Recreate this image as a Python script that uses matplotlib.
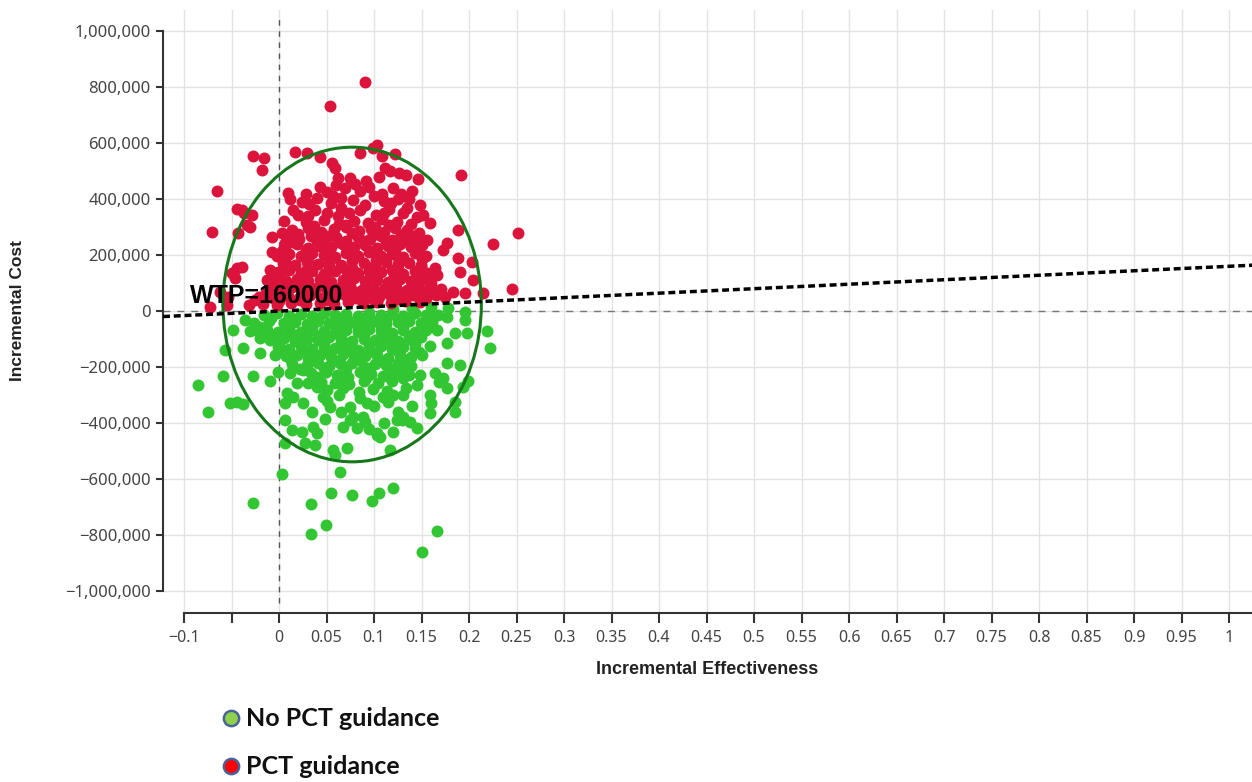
import numpy as np
import matplotlib
matplotlib.use("Agg")
import matplotlib.pyplot as plt
from matplotlib.patches import Ellipse
from matplotlib.lines import Line2D

plt.rcParams['font.family'] = ['Noto Sans', 'DejaVu Sans']

# ----------------------------------------
# data: (incremental effectiveness, incremental cost in thousands)
# ----------------------------------------
pct_sparse = [
    (0.0905, 818), (0.054, 732), (-0.065, 429), (-0.071, 282), (-0.027, 554), (-0.016, 546),
    (-0.018, 504), (-0.044, 364), (-0.037, 350), (-0.034, 307), (0.192, 486), (0.252, 279),
    (0.225, 239), (0.245, 79), (0.103, 593), (0.017, 568), (0.029, 564), (0.043, 550),
    (0.056, 529), (0.059, 511), (0.085, 564), (0.099, 582), (0.108, 554), (0.122, 561),
    (0.112, 511), (0.117, 500), (0.126, 493), (0.134, 486), (0.146, 471), (0.062, 475),
    (0.075, 475), (0.069, 439), (0.012, 400), (0.005, 321), (0.043, 443), (0.051, 425),
    (0.057, 411), (0.065, 404), (0.085, 430), (0.095, 445), (0.108, 420), (0.12, 440),
    (0.128, 420), (0.14, 430), (0.137, 400), (0.148, 379), (0.152, 343), (0.159, 314),
    (0.156, 254), (0.188, 289), (0.177, 243), (0.173, 218), (0.188, 189), (0.19, 139),
    (0.203, 175), (0.204, 111), (0.164, 154), (0.166, 129), (0.162, 68), (0.183, 68),
    (0.196, 64), (0.215, 64), (-0.062, 68), (-0.054, 50), (-0.073, 14), (-0.055, 21),
    (-0.044, 154), (-0.039, 157), (-0.049, 136), (-0.046, 118), (-0.009, 146), (-0.013, 111),
    (0.001, 118), (-0.039, 361), (-0.028, 343), (-0.031, 300), (-0.043, 279), (-0.007, 264),
    (0.003, 279), (0.006, 243), (-0.007, 211), (-0.002, 200), (0.009, 421), (0.024, 389),
    (0.015, 361),
    (0.05, 350), (0.065, 370), (0.085, 360), (0.1, 410), (0.118, 385), (0.125, 400),
    (0.04, 405), (0.028, 420), (0.08, 455), (0.092, 465), (0.105, 480), (0.135, 370),
    (0.06, 450), (0.03, 340), (0.11, 350),
]
pct_core = [
    (0.028, 318), (0.047, 326), (0.063, 312), (0.079, 322), (0.094, 315), (0.108, 328), (0.124, 318), (0.139, 310),
    (0.014, 288), (0.03, 296), (0.044, 284), (0.058, 292), (0.071, 300), (0.084, 286), (0.097, 294), (0.11, 282),
    (0.122, 297), (0.135, 288), (0.147, 280),
    (0.008, 262), (0.021, 256), (0.034, 268), (0.047, 258), (0.06, 264), (0.071, 252), (0.083, 266), (0.096, 258),
    (0.107, 270), (0.119, 255), (0.131, 263), (0.144, 252),
    (0.006, 232), (0.019, 238), (0.031, 226), (0.043, 234), (0.055, 228), (0.067, 240), (0.079, 230), (0.091, 236),
    (0.103, 224), (0.115, 233), (0.127, 240), (0.139, 228), (0.151, 236),
    (-0.002, 198), (0.011, 204), (0.023, 196), (0.035, 208), (0.047, 200), (0.059, 194), (0.071, 206), (0.083, 198),
    (0.095, 210), (0.107, 196), (0.119, 204), (0.131, 194), (0.143, 206), (0.155, 198),
    (0.004, 172), (0.017, 166), (0.029, 176), (0.041, 168), (0.053, 174), (0.065, 164), (0.077, 178), (0.089, 170),
    (0.101, 166), (0.113, 176), (0.125, 168), (0.137, 172), (0.149, 164),
    (-0.001, 138), (0.011, 146), (0.023, 136), (0.035, 144), (0.047, 134), (0.059, 142), (0.071, 148), (0.083, 136),
    (0.095, 144), (0.107, 138), (0.119, 146), (0.131, 134), (0.143, 142), (0.156, 136),
    (-0.006, 112), (0.007, 106), (0.019, 116), (0.031, 108), (0.043, 114), (0.055, 104), (0.067, 112), (0.079, 118),
    (0.091, 106), (0.103, 112), (0.115, 104), (0.127, 116), (0.139, 108), (0.151, 114),
    (-0.011, 82), (0.001, 76), (0.014, 86), (0.026, 78), (0.039, 84), (0.051, 74), (0.063, 82), (0.075, 88),
    (0.087, 76), (0.099, 84), (0.111, 78), (0.123, 86), (0.135, 74), (0.147, 82), (0.159, 88), (0.171, 78),
    (-0.021, 52), (-0.006, 46), (0.009, 54), (0.021, 48), (0.033, 56), (0.045, 46), (0.057, 52), (0.069, 58),
    (0.081, 48), (0.093, 54), (0.105, 50), (0.117, 58), (0.129, 50), (0.141, 56), (0.153, 52), (0.165, 58),
    (-0.032, 22), (-0.017, 26), (-0.002, 20), (0.013, 28), (0.028, 24), (0.043, 30), (0.058, 26), (0.073, 32),
    (0.088, 28), (0.103, 34), (0.118, 30), (0.133, 36), (0.148, 34),
    (0.02, 345), (0.038, 362), (0.074, 352), (0.09, 378), (0.102, 342), (0.116, 366), (0.13, 350),
    (0.032, 382), (0.055, 386), (0.078, 398), (0.145, 335), (0.062, 340), (0.11, 395),
]
pct_fill = [
    (0.037, 304), (0.07, 308), (0.101, 302), (0.116, 306),
    (0.02, 274), (0.052, 270), (0.077, 278), (0.103, 276), (0.128, 272), (0.141, 268),
    (0.014, 246), (0.04, 248), (0.065, 244), (0.089, 250), (0.113, 242), (0.137, 246),
    (0.003, 214), (0.028, 218), (0.051, 212), (0.075, 216), (0.099, 214), (0.122, 218), (0.146, 212),
    (0.006, 184), (0.03, 188), (0.054, 182), (0.078, 190), (0.102, 184), (0.126, 180), (0.15, 186),
    (0.005, 156), (0.029, 152), (0.053, 158), (0.077, 154), (0.101, 158), (0.125, 152), (0.149, 158),
    (0.001, 124), (0.025, 128), (0.049, 122), (0.073, 126), (0.097, 124), (0.121, 128), (0.145, 122),
    (-0.004, 94), (0.02, 98), (0.044, 92), (0.068, 98), (0.092, 94), (0.116, 96), (0.14, 92), (0.16, 100),
    (-0.014, 64), (0.008, 68), (0.032, 66), (0.056, 64), (0.08, 68), (0.104, 66), (0.128, 64), (0.152, 68),
    (-0.025, 38), (0.0, 36), (0.022, 40), (0.05, 38), (0.075, 42), (0.1, 40), (0.125, 44), (0.155, 48), (0.175, 50),
]

no_pct_sparse = [
    (-0.027, -686), (0.034, -796), (0.049, -764), (0.034, -690), (0.055, -650), (0.077, -657),
    (0.098, -680), (0.105, -650), (0.12, -633), (0.166, -785), (0.15, -862), (0.003, -582),
    (0.064, -575),
    (-0.085, -264), (-0.075, -361), (-0.059, -232), (-0.027, -232), (-0.009, -250), (-0.052, -329),
    (-0.044, -325), (-0.038, -332), (-0.048, -68), (-0.038, -132), (-0.057, -139), (-0.036, -32),
    (-0.02, -96), (-0.02, -150), (-0.004, -157), (-0.001, -218), (0.006, -329), (0.006, -389),
    (0.014, -425), (0.024, -432), (-0.023, -68), (-0.009, -86),
    (0.196, -4), (0.196, -32), (0.219, -71), (0.222, -132), (0.198, -79), (0.19, -193),
    (0.199, -250), (0.194, -271), (0.177, -186), (0.164, -221), (0.173, -239), (0.177, -275),
    (0.185, -325), (0.185, -361), (0.159, -300), (0.159, -364), (0.145, -418), (0.125, -361),
    (0.129, -389), (0.12, -432), (0.103, -443), (0.131, -300), (0.145, -264), (0.148, -229),
    (0.177, -114), (0.185, -79), (0.166, -68), (0.167, -14), (0.177, -21),
    (0.12, 6), (0.14, 10), (0.16, 14), (0.178, 12),
    (0.006, -471), (0.036, -414), (0.04, -436), (0.027, -471), (0.038, -479), (0.057, -496),
    (0.059, -514), (0.072, -489), (0.067, -414), (0.075, -389), (0.082, -418), (0.078, -379),
    (0.088, -379), (0.103, -436), (0.106, -450), (0.117, -496), (0.124, -389), (0.131, -379),
    (0.054, -343), (0.046, -307), (0.075, -343), (0.093, -329), (0.109, -307), (0.015, -307),
    (0.025, -329), (0.008, -293), (0.019, -257), (0.03, -257), (0.04, -270), (0.025, -211),
    (0.012, -221),
    (0.05, -320), (0.063, -300), (0.085, -310), (0.1, -340), (0.115, -325), (0.12, -300),
    (0.065, -360), (0.09, -395), (0.095, -420), (0.048, -385), (0.035, -360), (0.14, -340),
    (0.11, -400), (0.138, -395), (0.16, -330), (0.168, -255),
]
no_pct_core = [
    (-0.016, -14), (-0.002, -8), (0.011, -16), (0.023, -10), (0.035, -18), (0.047, -8), (0.059, -14), (0.071, -10),
    (0.083, -18), (0.095, -8), (0.107, -14), (0.119, -10), (0.131, -16), (0.143, -8), (0.155, -14),
    (-0.026, -42), (-0.011, -36), (0.005, -44), (0.017, -38), (0.029, -46), (0.041, -36), (0.053, -42), (0.065, -48),
    (0.077, -38), (0.089, -44), (0.101, -36), (0.113, -46), (0.125, -40), (0.137, -34), (0.149, -44), (0.161, -38),
    (-0.031, -72), (-0.013, -66), (-0.001, -74), (0.011, -68), (0.023, -76), (0.035, -66), (0.047, -72), (0.059, -78),
    (0.071, -68), (0.083, -74), (0.095, -64), (0.107, -72), (0.119, -78), (0.131, -68), (0.143, -74), (0.155, -66),
    (-0.009, -102), (0.005, -96), (0.017, -106), (0.029, -98), (0.041, -104), (0.053, -94), (0.065, -102),
    (0.077, -108), (0.089, -98), (0.101, -104), (0.113, -96), (0.125, -106), (0.137, -100), (0.149, -94),
    (-0.001, -128), (0.011, -134), (0.023, -126), (0.035, -136), (0.047, -128), (0.059, -132), (0.071, -124),
    (0.083, -138), (0.095, -130), (0.107, -126), (0.119, -136), (0.131, -128), (0.143, -134), (0.159, -126),
    (0.007, -162), (0.019, -156), (0.031, -166), (0.043, -158), (0.055, -164), (0.067, -154), (0.079, -168),
    (0.091, -160), (0.103, -156), (0.115, -166), (0.127, -158), (0.139, -164), (0.151, -156),
    (0.014, -188), (0.029, -194), (0.041, -186), (0.053, -196), (0.065, -190), (0.077, -184), (0.089, -198),
    (0.101, -188), (0.113, -194), (0.125, -186), (0.139, -196),
    (0.034, -222), (0.049, -216), (0.061, -228), (0.073, -234), (0.085, -218), (0.097, -226), (0.109, -232),
    (0.124, -220), (0.137, -228),
    (0.044, -252), (0.059, -258), (0.074, -262), (0.089, -248), (0.104, -256), (0.119, -250),
    (0.051, -282), (0.067, -276), (0.084, -288), (0.099, -278), (0.114, -284), (0.134, -274),
]
no_pct_fill = [
    (-0.008, -26), (0.017, -28), (0.041, -24), (0.065, -28), (0.089, -26), (0.113, -28), (0.137, -24), (0.16, -22),
    (-0.02, -56), (0.011, -54), (0.035, -58), (0.059, -54), (0.083, -58), (0.107, -54), (0.131, -58), (0.155, -52),
    (-0.005, -86), (0.017, -84), (0.041, -88), (0.065, -84), (0.089, -88), (0.113, -84), (0.137, -88),
    (0.0, -116), (0.023, -114), (0.047, -118), (0.071, -114), (0.095, -118), (0.119, -114), (0.143, -118),
    (0.005, -146), (0.029, -144), (0.053, -148), (0.077, -144), (0.101, -148), (0.125, -144), (0.147, -146),
    (0.013, -176), (0.037, -174), (0.061, -178), (0.085, -174), (0.109, -178), (0.133, -174),
    (0.022, -206), (0.047, -204), (0.071, -208), (0.095, -204), (0.119, -208), (0.131, -210),
    (0.04, -236), (0.067, -240), (0.092, -238), (0.116, -236), (0.131, -240),
]

WTP = 160000
ellipse_center = (0.077, 23500)
ellipse_size = (0.272, 1124000)
series_labels = ["No PCT guidance", "PCT guidance"]

RED = "#dc143c"
GREEN = "#33c633"

# ----------------------------------------
# figure
# ----------------------------------------
fig = plt.figure(figsize=(12.52, 7.82), dpi=100)
ax = fig.add_axes([0.1302, 0.2161, 0.8698, 0.7709])

xlim = (-0.1221, 1.0242)
ylim = (-1078600, 1075000)
ax.set_xlim(xlim)
ax.set_ylim(ylim)

xticks = np.round(np.arange(-0.1, 1.0001, 0.05), 2)
yticks = np.arange(-1000000, 1000001, 200000)
ax.set_xticks(xticks)
ax.set_yticks(yticks)
xlabels = []
for v in xticks:
    if abs(v + 0.05) < 1e-9:
        xlabels.append("")
    else:
        xlabels.append(f"{v:g}".replace("-", "\u2212"))
ax.set_xticklabels(xlabels)
ax.set_yticklabels([f"{v:,.0f}".replace("-", "\u2212") for v in yticks])

ax.grid(True, color="#e3e3e3", lw=1, zorder=0)
ax.set_axisbelow(True)
for s in ["top", "right"]:
    ax.spines[s].set_visible(False)
ax.spines["left"].set_bounds(-1000000, 1000000)
ax.spines["bottom"].set_bounds(-0.1, xlim[1])
for s in ["left", "bottom"]:
    ax.spines[s].set_color("#333333")
    ax.spines[s].set_linewidth(1.5)
ax.tick_params(axis="y", length=5, width=1.5, color="#333333", labelsize=12, labelcolor="#444444", pad=4)
ax.tick_params(axis="x", length=7, width=1.5, color="#333333", labelsize=11.5, labelcolor="#444444", pad=5)

# reference lines
ax.plot([0, 0], [-1043000, 1046000], color="#555555", lw=1, dashes=(4, 4), zorder=1)
ax.plot([xlim[0], xlim[1]], [0, 0], color="#777777", lw=1, dashes=(5, 5), zorder=1)

# points
red = np.array(pct_sparse + pct_core + pct_fill, dtype=float)
green = np.array(no_pct_sparse + no_pct_core + no_pct_fill, dtype=float)
ax.scatter(green[:, 0], green[:, 1] * 1000, s=74, color=GREEN, linewidths=0, zorder=3)
ax.scatter(red[:, 0], red[:, 1] * 1000, s=74, color=RED, linewidths=0, zorder=3)

# ellipse
ax.add_patch(Ellipse(ellipse_center, ellipse_size[0], ellipse_size[1], fill=False,
                     edgecolor="#16781a", lw=2.2, zorder=4))

# WTP line
wx = np.array(xlim)
ax.plot(wx, wx * WTP, color="black", lw=2.5, dashes=(2.0, 1.1), zorder=5)
ax.text(-0.094, 28000, f"WTP={WTP}", fontsize=18, fontweight="bold",
        family="Liberation Sans", color="black", zorder=6, va="baseline")

# axis titles
fig.text(18 / 1252, 1 - 310 / 782, "Incremental Cost", rotation=90, ha="center", va="center",
         fontsize=12.5, fontweight="bold", family="Liberation Sans", color="#222222")
fig.text(707 / 1252, 1 - 669 / 782, "Incremental Effectiveness", ha="center", va="center",
         fontsize=13, fontweight="bold", family="Liberation Sans", color="#222222")

# legend
leg_colors = ["#8fd14f", "#ff0000"]
leg_y = [718, 766]
for lab, c, yy in zip(series_labels, leg_colors, leg_y):
    fig.add_artist(Line2D([231 / 1252], [1 - yy / 782], marker="o", markersize=11,
                          markerfacecolor=c, markeredgecolor="#4a6296", markeredgewidth=1.8,
                          transform=fig.transFigure))
    fig.text(246 / 1252, 1 - yy / 782, lab, ha="left", va="center", fontsize=18,
             fontweight="bold", family="Lato", color="#111111")

fig.savefig("out.png", dpi=100)
